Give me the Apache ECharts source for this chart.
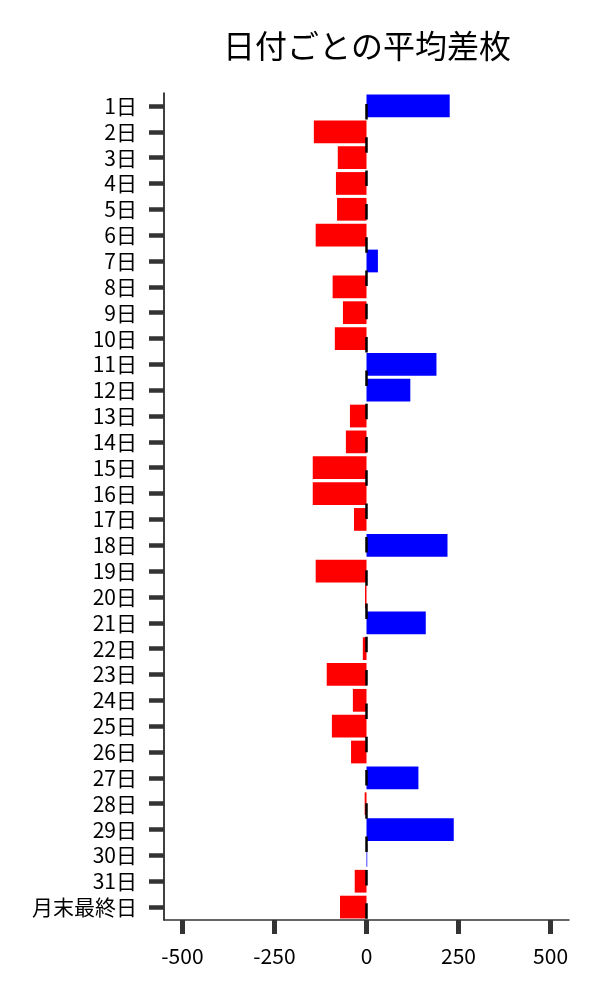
<!DOCTYPE html>
<html>
<head>
<meta charset="utf-8">
<script src="https://cdn.jsdelivr.net/npm/echarts@6/dist/echarts.min.js"></script>
<style>
  html, body { margin: 0; padding: 0; background: #fff; }
  #main { width: 600px; height: 1000px; }
</style>
</head>
<body>
<div id="main"></div>
<script>
// 日付ごとの平均差枚
var days = ['1日', '2日', '3日', '4日', '5日', '6日', '7日', '8日', '9日', '10日',
    '11日', '12日', '13日', '14日', '15日', '16日', '17日', '18日', '19日', '20日',
    '21日', '22日', '23日', '24日', '25日', '26日', '27日', '28日', '29日', '30日',
    '31日', '月末最終日'];
var avgDiff = [226, -143, -78, -83, -80, -138, 31, -92, -64, -86,
    190, 119, -45, -56, -146, -146, -34, 220, -138, -4,
    161, -10, -108, -37, -94, -42, 141, -5, 237, 2,
    -32, -72];
var xTicks = [-500, -250, 0, 250, 500];

var font = '"Noto Sans CJK JP", "Noto Sans", sans-serif';

var chart = echarts.init(document.getElementById('main'));
var option = {
    backgroundColor: '#fff',
    animation: false,
    title: {
        text: '日付ごとの平均差枚',
        left: 362,
        textAlign: 'center',
        top: 25,
        textStyle: { fontFamily: font, fontSize: 32, fontWeight: 'normal', color: '#000' }
    },
    grid: { left: 164, right: 31, top: 93, bottom: 80 },
    xAxis: {
        type: 'value',
        min: -550,
        max: 550,
        axisLine: { show: true, onZero: false, lineStyle: { color: '#333', width: 1.5 } },
        axisTick: {
            show: true, length: 14, customValues: xTicks,
            lineStyle: { color: '#333', width: 5 }
        },
        axisLabel: {
            customValues: xTicks, margin: 26,
            fontFamily: font, fontSize: 21, color: '#000'
        },
        splitLine: { show: false }
    },
    yAxis: {
        type: 'category',
        data: days,
        inverse: true,
        axisLine: { show: true, onZero: false, lineStyle: { color: '#000', width: 1.5 } },
        axisTick: {
            show: true, length: 15, alignWithLabel: true, interval: 0,
            lineStyle: { color: '#333', width: 4.5 }
        },
        axisLabel: { interval: 0, margin: 27, fontFamily: font, fontSize: 21, color: '#000' }
    },
    series: [{
        type: 'bar',
        data: avgDiff.map(function (v) {
            return { value: v, itemStyle: { color: v >= 0 ? '#0000ff' : '#ff0000' } };
        }),
        barWidth: '88%',
        markLine: {
            silent: true,
            symbol: 'none',
            label: { show: false },
            lineStyle: { color: '#000', width: 2.5, type: [15.5, 17.8], dashOffset: 22.3 },
            data: [{ xAxis: 0 }]
        }
    }]
};
chart.setOption(option);
</script>
</body>
</html>
